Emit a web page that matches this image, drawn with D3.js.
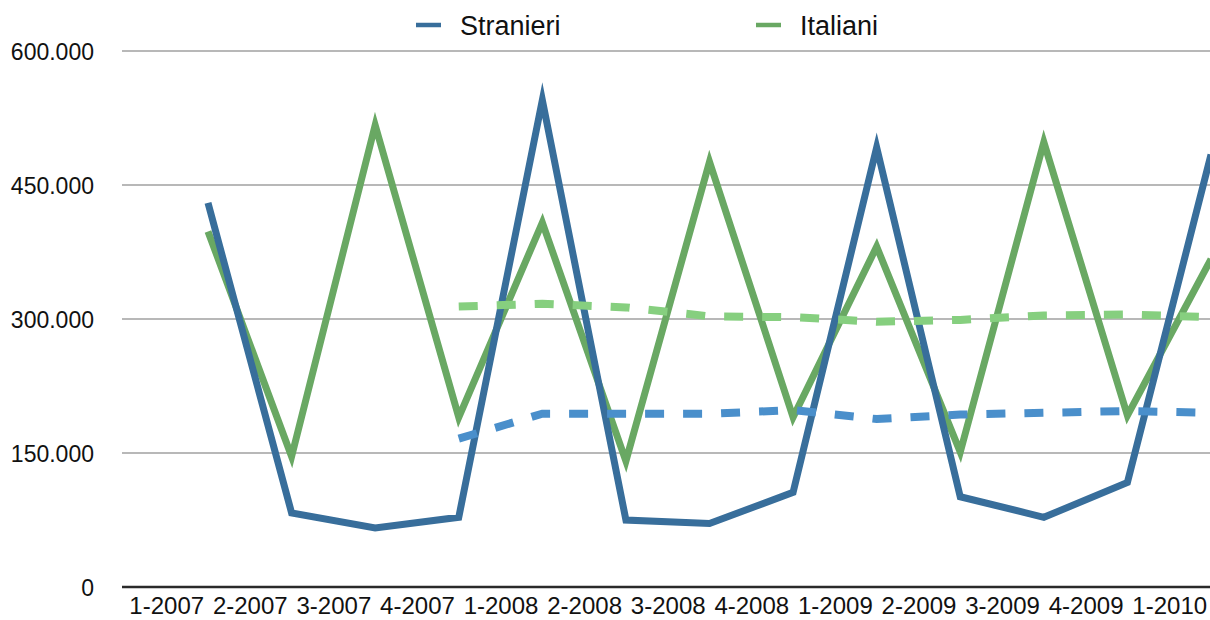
<!DOCTYPE html>
<html>
<head>
<meta charset="utf-8">
<script src="https://cdn.jsdelivr.net/npm/d3@7"></script>
<style>
  body { margin: 0; background: #fff; }
  svg text { font-family: "Liberation Sans", Arial, Helvetica, sans-serif; fill: #111; }
</style>
</head>
<body>
<div id="graph"></div>
<script>
// Categories (quarter-year)
var quarters = ["1-2007", "2-2007", "3-2007", "4-2007", "1-2008", "2-2008", "3-2008",
                "4-2008", "1-2009", "2-2009", "3-2009", "4-2009", "1-2010"];

// Series values
var stranieri = [430000, 83000, 66000, 78000, 545000, 75000, 71000, 106000, 492000, 101000, 78000, 117000, 484000];
var italiani  = [398000, 146000, 517000, 190000, 408000, 141000, 476000, 190000, 381000, 151000, 498000, 192000, 367000];

// Trend lines (start at 4-2007)
var stranieriTrend = [null, null, null, 166000, 194000, 194000, 194000, 198000, 188000, 193000, 195000, 197000, 195000];
var italianiTrend  = [null, null, null, 314000, 317000, 313000, 303000, 302000, 297000, 299000, 304000, 305000, 302000];

// Y ticks
var yTicks = [0, 150000, 300000, 450000, 600000];

// Legend
var legendNames = ["Stranieri", "Italiani"];

var CanvasInfo = { width: 1210, height: 620, id: "#graph" };
var colors = { stranieri: "#386e9b", italiani: "#69a863", stranieriTrend: "#4a8fcb", italianiTrend: "#86cf7f" };

var itFormat = d3.formatLocale({ decimal: ",", thousands: ".", grouping: [3], currency: ["€", ""] }).format(",");

var svg = d3.select(CanvasInfo.id)
            .append("svg")
            .attr("width", CanvasInfo.width)
            .attr("height", CanvasInfo.height);

var xScale = d3.scalePoint().domain(quarters).range([208, 1211]);
var step = xScale.step();
var yScale = d3.scaleLinear().domain([0, 600000]).range([587, 51]);

// Grid lines
svg.append("g")
   .selectAll("line")
   .data(yTicks.filter(function(t) { return t > 0; }))
   .enter()
   .append("line")
   .attr("x1", 122)
   .attr("x2", CanvasInfo.width)
   .attr("y1", function(t) { return yScale(t); })
   .attr("y2", function(t) { return yScale(t); })
   .style("stroke", "#b8b8b8")
   .style("stroke-width", 2);

// Y axis labels
var yAxis = d3.axisLeft(yScale).tickValues(yTicks).tickFormat(itFormat).tickSize(0).tickPadding(0);
var yg = svg.append("g")
            .attr("transform", "translate(94,0)")
            .call(yAxis);
yg.select(".domain").remove();
yg.selectAll("text")
  .style("font-size", "23px")
  .attr("dy", "0.35em");

// X axis (labels sit half a step left of the points)
var xAxis = d3.axisBottom(xScale).tickSize(0).tickPadding(0);
var xg = svg.append("g")
            .attr("transform", "translate(" + (-step / 2) + "," + 587 + ")")
            .call(xAxis);
xg.select(".domain").remove();
xg.selectAll("text")
  .style("font-size", "24px")
  .attr("y", 27)
  .attr("dy", 0);

svg.append("line")
   .attr("x1", 122)
   .attr("x2", CanvasInfo.width)
   .attr("y1", yScale(0))
   .attr("y2", yScale(0))
   .style("stroke", "#2a2a2a")
   .style("stroke-width", 2.5);

function drawLine(values, color, width, dash)
{
    var line = d3.line()
                 .defined(function(v) { return v !== null; })
                 .x(function(v, i) { return xScale(quarters[i]); })
                 .y(function(v) { return yScale(v); });

    svg.append("path")
       .datum(values)
       .attr("d", line)
       .style("fill", "none")
       .style("stroke", color)
       .style("stroke-width", width)
       .style("stroke-linejoin", "miter")
       .style("stroke-miterlimit", 10)
       .style("stroke-dasharray", dash || null);
}

drawLine(italiani, colors.italiani, 7);
drawLine(stranieri, colors.stranieri, 7);
drawLine(italianiTrend, colors.italianiTrend, 8, "19,19");
drawLine(stranieriTrend, colors.stranieriTrend, 8, "19,19");

// Legend
var legendX = [416, 756];
var legendColors = [colors.stranieri, colors.italiani];
var legend = svg.append("g");
legendNames.forEach(function(name, i)
{
    legend.append("line")
          .attr("x1", legendX[i])
          .attr("x2", legendX[i] + 25)
          .attr("y1", 25)
          .attr("y2", 25)
          .style("stroke", legendColors[i])
          .style("stroke-width", 4.5);

    legend.append("text")
          .attr("x", legendX[i] + 44)
          .attr("y", 35)
          .style("font-size", "27px")
          .text(name);
});
</script>
</body>
</html>
